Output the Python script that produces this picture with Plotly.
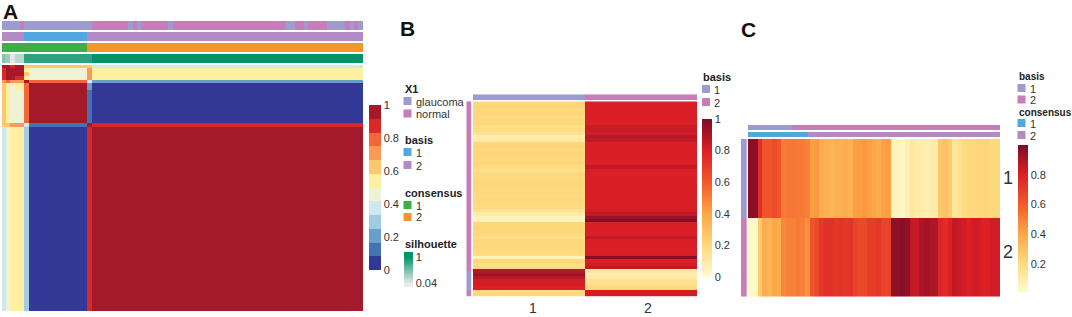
import plotly.graph_objects as go

W, H = 1072, 317
FONT = "Liberation Sans"
TEXT = "#333333"

VIOLET, PINK = "#9C9CD0", "#C67DB8"
BLUE, PURPLE = "#52A8DC", "#B28AC4"
GREEN, ORANGE = "#3DAE49", "#F7952B"

# ---------- Panel A: consensus matrix ----------
A_COL_EDGES = [0, 4, 8, 13, 22, 27, 85, 90, 361]
A_ROW_EDGES = [0, 3, 7, 11, 15, 18, 25, 58, 62, 246]
A_VALUES = [
    [.97, .97, .85, .97, .62, .62, .62, .38],
    [.85, .97, .97, .97, .55, .45, .72, .55],
    [.85, .97, .97, .97, .62, .45, .72, .55],
    [.85, .97, .97, .85, .55, .45, .72, .55],
    [.72, .78, .72, .72, .97, .78, .35, .20],
    [.62, .55, .45, .55, .78, .97, .20, .02],
    [.62, .55, .45, .45, .78, .97, .12, .02],
    [.62, .62, .72, .72, .38, .15, .97, .85],
    [.38, .42, .55, .55, .28, .02, .85, .97],
]
A_SCALE = ["#333795", "#4372B5", "#6A9ECB", "#A0CBE2", "#CFE8F0", "#EFF3D5",
           "#FFEFA0", "#FDC76F", "#F99A57", "#F2673A", "#D92A27", "#A51A2A"]

A_X1_EDGES = [0, 17.5, 21.5, 90, 126, 131, 135, 139, 166, 171, 284, 293, 302, 306, 325, 343, 348, 352, 356, 361]
A_X1_CODES = [1, 2, 1, 2, 1, 2, 1, 2, 1, 2, 1, 2, 1, 2, 1, 2, 1, 2, 1]
A_BASIS_EDGES = [0, 22, 85, 361]
A_BASIS_CODES = [2, 1, 2]
A_CONS_EDGES = [0, 85, 361]
A_CONS_CODES = [1, 2]
A_SIL_EDGES = [0, 3, 8, 13, 22, 90, 361]
A_SIL_VALUES = [.45, .35, .04, .22, .82, 1.0]

# ---------- Panel B: coefficient matrix ----------
B_COL1 = [.20, .22, .20, .21, .19, .20, .20, .17, .18, .15, .08, .10, .20, .21, .20, .21, .20, .20, .21, .19,
          .16, .20, .19, .20, .21, .20, .19, .20, .19, .20, .19, .18, .15, .09, .05, .05, .20, .21, .20, .20,
          .17, .20, .19, .20, .19, .18, .06, .20, .17, .19, .88, .93, .88, .82, .82, .80, .20, .20]
B_COL2 = [.80, .80, .80, .80, .80, .80, .80, .84, .84, .82, .88, .86, .80, .80, .80, .80, .80, .80, .80, .86,
          .80, .80, .80, .80, .80, .80, .80, .80, .80, .80, .80, .80, .82, .86, .94, .98, .80, .80, .80, .80,
          .85, .80, .80, .80, .80, .81, .98, .80, .82, .86, .12, .08, .10, .15, .17, .20, .82, .82]
B_LEFT_EDGES = [0, 50.5, 56, 58]
B_LEFT_CODES = [2, 1, 2]
B_TOP_CODES = [1, 2]
B_X_LABELS = ["1", "2"]
HEAT_SCALE = [[0, "#FFFBD0"], [.2, "#FED97C"], [.4, "#FCA646"], [.6, "#F1592B"], [.8, "#DB1F26"], [1, "#7D0D25"]]

# ---------- Panel C: basis matrix ----------
C_ROW1 = [.97, .97, .75, .62, .62, .65, .62, .52, .53, .53, .52, .52, .50, .42, .44, .38, .36, .35, .37, .36,
          .38, .36, .42, .43, .44, .42, .40, .38, .42, .43, .06, .06, .04, .08, .12, .10, .10, .08, .10, .10,
          .28, .30, .26, .14, .16, .20, .20, .20, .22, .22, .22, .20, .20]
C_ROW2 = [.03, .03, .27, .37, .35, .40, .38, .48, .50, .50, .52, .50, .46, .62, .66, .72, .74, .74, .72, .73,
          .72, .73, .68, .66, .66, .70, .70, .72, .68, .68, .96, .96, .98, .96, .86, .85, .90, .92, .90, .90,
          .78, .76, .80, .86, .84, .82, .80, .82, .82, .80, .80, .82, .82]
C_Y_LABELS = ["1", "2"]
C_STRIP1_EDGES = [0, 44.6, 252.6]
C_STRIP1_CODES = [1, 2]
C_STRIP2_EDGES = [0, 60.3, 252.6]
C_STRIP2_CODES = [1, 2]
C_LEFT_CODES = [1, 2]

fig = go.Figure()
n_axes = [0]


def new_axes(x0, x1, y0, y1, xrange, yrange):
    n_axes[0] += 1
    n = n_axes[0]
    sx = "" if n == 1 else str(n)
    fig.layout["xaxis" + sx] = dict(domain=[x0 / W, x1 / W], range=xrange, visible=False,
                                    anchor="y" + sx, fixedrange=True)
    fig.layout["yaxis" + sx] = dict(domain=[1 - y1 / H, 1 - y0 / H], range=yrange, visible=False,
                                    anchor="x" + sx, fixedrange=True)
    return "x" + sx, "y" + sx


def codes_scale(c1, c2):
    return [[0, c1], [.5, c1], [.5, c2], [1, c2]]


def strip(box, edges, codes, c1, c2):
    x0, x1, y0, y1 = box
    xa, ya = new_axes(x0, x1, y0, y1, [edges[0], edges[-1]], [0, 1])
    fig.add_trace(go.Heatmap(x=edges, y=[0, 1], z=[codes], zmin=1, zmax=2,
                             colorscale=codes_scale(c1, c2), showscale=False,
                             xaxis=xa, yaxis=ya, hoverinfo="skip"))


def vstrip(box, edges, codes, c1, c2):
    x0, x1, y0, y1 = box
    xa, ya = new_axes(x0, x1, y0, y1, [0, 1], [edges[-1], edges[0]])
    fig.add_trace(go.Heatmap(x=[0, 1], y=edges, z=[[c] for c in codes], zmin=1, zmax=2,
                             colorscale=codes_scale(c1, c2), showscale=False,
                             xaxis=xa, yaxis=ya, hoverinfo="skip"))


def colorbar(x, top, w, h, ticks, labels):
    return dict(x=x / W, xanchor="left", y=1 - top / H, yanchor="top", len=h, lenmode="pixels",
                thickness=w, thicknessmode="pixels", xpad=0, ypad=0, outlinewidth=0, borderwidth=0,
                ticks="", tickvals=ticks, ticktext=labels,
                tickfont=dict(family=FONT, size=11, color=TEXT))


# Panel A
strip((2, 363, 21, 30), A_X1_EDGES, A_X1_CODES, VIOLET, PINK)
strip((2, 363, 32, 41), A_BASIS_EDGES, A_BASIS_CODES, BLUE, PURPLE)
strip((2, 363, 43, 52), A_CONS_EDGES, A_CONS_CODES, GREEN, ORANGE)

xa, ya = new_axes(2, 363, 54, 63, [0, 361], [0, 1])
fig.add_trace(go.Heatmap(x=A_SIL_EDGES, y=[0, 1], z=[A_SIL_VALUES], zmin=-.11, zmax=1.18,
                         colorscale=[[0, "#EDEDED"], [.12, "#E6E6E6"], [.86, "#009468"], [1, "#009468"]],
                         colorbar=colorbar(404, 252, 9, 35, [1, .04], ["1", "0.04"]),
                         xaxis=xa, yaxis=ya, hoverinfo="skip"))

xa, ya = new_axes(2, 363, 65, 311, [0, 361], [246, 0])
discrete = []
for i, c in enumerate(A_SCALE):
    discrete += [[i / 12, c], [(i + 1) / 12, c]]
fig.add_trace(go.Heatmap(x=A_COL_EDGES, y=A_ROW_EDGES, z=A_VALUES, zmin=0, zmax=1, colorscale=discrete,
                         colorbar=colorbar(369, 105, 12, 165, [0, .2, .4, .6, .8, 1],
                                           ["0", "0.2", "0.4", "0.6", "0.8", "1"]),
                         xaxis=xa, yaxis=ya, hoverinfo="skip"))

# Panel B
strip((473, 697, 94.3, 100), [0, 1, 2], B_TOP_CODES, VIOLET, PINK)
vstrip((466.3, 471.7, 101.3, 296.7), B_LEFT_EDGES, B_LEFT_CODES, VIOLET, PINK)
xa, ya = new_axes(473, 697, 101.3, 296.7, [-.5, 1.5], [len(B_COL1) - .5, -.5])
fig.add_trace(go.Heatmap(z=[list(p) for p in zip(B_COL1, B_COL2)], zmin=0, zmax=1, colorscale=HEAT_SCALE,
                         colorbar=colorbar(702, 119, 10, 157.5, [0, .2, .4, .6, .8, 1],
                                           ["0", "0.2", "0.4", "0.6", "0.8", "1"]),
                         xaxis=xa, yaxis=ya, hoverinfo="skip"))

# Panel C
strip((748, 1000, 125, 130), C_STRIP1_EDGES, C_STRIP1_CODES, VIOLET, PINK)
strip((748, 1000, 132, 137.3), C_STRIP2_EDGES, C_STRIP2_CODES, BLUE, PURPLE)
vstrip((741, 746.7, 138.7, 296.7), [0, 1, 2], C_LEFT_CODES, VIOLET, PINK)
xa, ya = new_axes(748, 1000, 138.7, 296.7, [-.5, len(C_ROW1) - .5], [1.5, -.5])
fig.add_trace(go.Heatmap(z=[C_ROW1, C_ROW2], zmin=.01, zmax=1, colorscale=HEAT_SCALE,
                         colorbar=colorbar(1017.5, 145, 10, 147, [.2, .4, .6, .8],
                                           ["0.2", "0.4", "0.6", "0.8"]),
                         xaxis=xa, yaxis=ya, hoverinfo="skip"))

# Text and legends
annotations = []
shapes = []


def text(x, y, s, size=11, bold=False, anchor="left", color=TEXT):
    annotations.append(dict(x=x / W, y=1 - y / H, xref="paper", yref="paper", text=f"<b>{s}</b>" if bold else s,
                            showarrow=False, xanchor=anchor, yanchor="middle", xshift=0, yshift=0,
                            borderpad=0, font=dict(family=FONT, size=size, color=color)))


def legend(x, title_y, title, items, title_size=11, sw=8):
    text(x, title_y, title, size=title_size, bold=True, color="#222222")
    for y, color, label in items:
        shapes.append(dict(type="rect", xref="paper", yref="paper", x0=x / W, x1=(x + sw) / W,
                           y0=1 - (y + sw / 2) / H, y1=1 - (y - sw / 2) / H, fillcolor=color, line_width=0))
        text(x + sw + 3, y + .5, label)


text(2, 11, "A", size=21, bold=True, color="#111111")
text(399, 29, "B", size=21, bold=True, color="#111111")
text(740, 30, "C", size=21, bold=True, color="#111111")

legend(403.5, 88.5, "X1", [(101, VIOLET, "glaucoma"), (113.5, PINK, "normal")])
legend(403.5, 140, "basis", [(152, BLUE, "1"), (165, PURPLE, "2")])
legend(403.5, 192.5, "consensus", [(205, GREEN, "1"), (217, ORANGE, "2")])
text(403.5, 244, "silhouette", bold=True, color="#222222")

legend(702, 77, "basis", [(89, VIOLET, "1"), (102, PINK, "2")])
legend(1017.5, 76.5, "basis", [(88, VIOLET, "1"), (99.5, PINK, "2")], title_size=10)
legend(1017.5, 112, "consensus", [(123, BLUE, "1"), (135, PURPLE, "2")], title_size=10)

text(533, 307.5, B_X_LABELS[0], size=14, anchor="center")
text(648, 307.5, B_X_LABELS[1], size=14, anchor="center")
text(1008, 178, C_Y_LABELS[0], size=18, anchor="center")
text(1008, 252, C_Y_LABELS[1], size=18, anchor="center")

fig.update_layout(width=W, height=H, margin=dict(l=0, r=0, t=0, b=0, pad=0), paper_bgcolor="white",
                  plot_bgcolor="white", annotations=annotations, shapes=shapes, showlegend=False)

fig.write_html("out.html", config={"displayModeBar": False},
               post_script="document.body.style.margin='0';document.body.style.overflow='hidden';")
